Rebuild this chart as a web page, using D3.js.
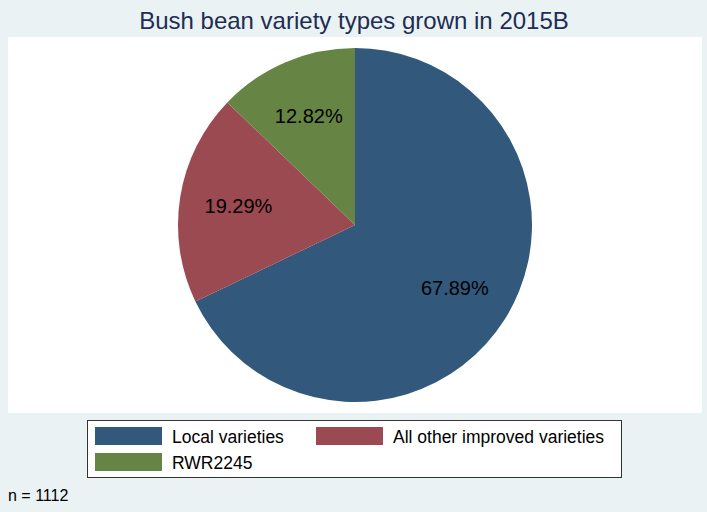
<!DOCTYPE html>
<html>
<head>
<meta charset="utf-8">
<script src="https://cdn.jsdelivr.net/npm/d3@7"></script>
<style>
  body { margin: 0; background: #eaf2f3; }
  text { font-family: Arial, "Liberation Sans", sans-serif; }
</style>
</head>
<body>
<div id="chart"></div>
<script>
var categories = ["Local varieties", "All other improved varieties", "RWR2245"];
var shares = [67.89, 19.29, 12.82];
var colors = ["#32597c", "#9a4a50", "#668443"];
var titleText = "Bush bean variety types grown in 2015B";
var noteText = "n = 1112";

var width = 707, height = 512;

var svg = d3.select("#chart").append("svg")
  .attr("width", width)
  .attr("height", height);

svg.append("rect")
  .attr("width", width).attr("height", height)
  .attr("fill", "#eaf2f3");

// plot region
svg.append("rect")
  .attr("x", 8).attr("y", 37)
  .attr("width", 694).attr("height", 376)
  .attr("fill", "#ffffff");

svg.append("text")
  .attr("x", 354).attr("y", 29)
  .attr("text-anchor", "middle")
  .style("font-size", "24px")
  .attr("fill", "#1e2d53")
  .text(titleText);

var data = categories.map(function(c, i) { return { name: c, value: shares[i], color: colors[i] }; });

var radius = 177;
var pie = d3.pie().sort(null).value(function(d) { return d.value; });
var arc = d3.arc().innerRadius(0).outerRadius(radius);
var labelArc = d3.arc().innerRadius(radius * 2 / 3).outerRadius(radius * 2 / 3);

var g = svg.append("g").attr("transform", "translate(355,225)");

var slices = pie(data);

g.selectAll("path")
  .data(slices)
  .enter().append("path")
    .attr("d", arc)
    .attr("fill", function(d) { return d.data.color; });

g.selectAll("text")
  .data(slices)
  .enter().append("text")
    .attr("transform", function(d) { return "translate(" + labelArc.centroid(d) + ")"; })
    .attr("text-anchor", "middle")
    .attr("dy", "0.35em")
    .style("font-size", "20px")
    .attr("fill", "#000")
    .text(function(d) { return d3.format(".2f")(d.data.value) + "%"; });

// legend
var legend = svg.append("g");
legend.append("rect")
  .attr("x", 87.5).attr("y", 420.5)
  .attr("width", 534).attr("height", 57)
  .attr("fill", "#ffffff")
  .attr("stroke", "#333333")
  .attr("stroke-width", 1);

var cols = [95, 316];
var rows = [427, 453];
var items = legend.selectAll("g.item")
  .data(data)
  .enter().append("g")
    .attr("class", "item")
    .attr("transform", function(d, i) {
      return "translate(" + cols[i % 2] + "," + rows[Math.floor(i / 2)] + ")";
    });

items.append("rect")
  .attr("width", 67).attr("height", 18)
  .attr("fill", function(d) { return d.color; });

items.append("text")
  .attr("x", 77).attr("y", 16)
  .style("font-size", "17.5px")
  .attr("fill", "#000")
  .text(function(d) { return d.name; });

svg.append("text")
  .attr("x", 8).attr("y", 501)
  .style("font-size", "16px")
  .attr("fill", "#000")
  .text(noteText);
</script>
</body>
</html>
